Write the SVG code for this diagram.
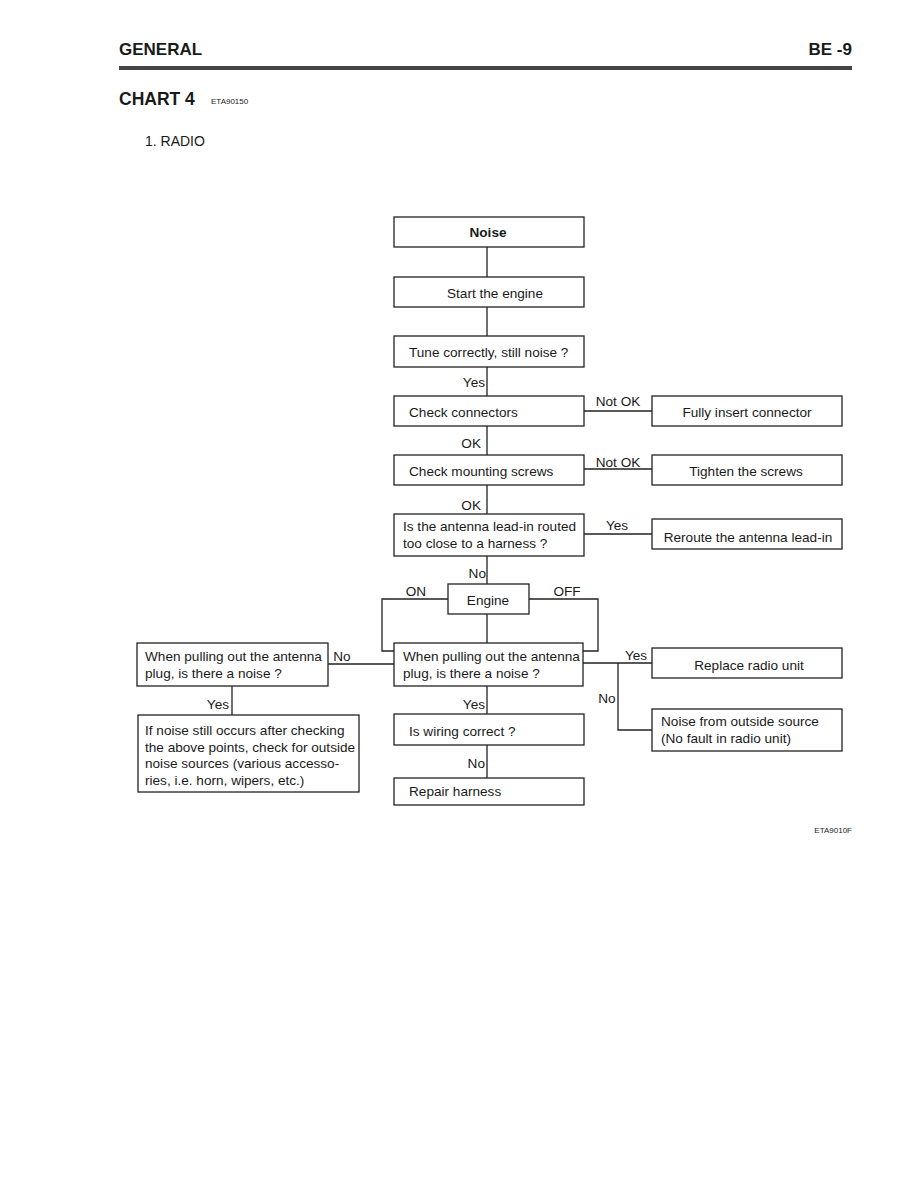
<svg xmlns="http://www.w3.org/2000/svg" width="918" height="1188" viewBox="0 0 918 1188">
<style>
text{font-family:"Liberation Sans",Arial,sans-serif;fill:#1a1a1a;font-size:13.6px}
.b{font-weight:bold}
.box{fill:#fff;stroke:#222;stroke-width:1.3}
.ln{fill:none;stroke:#222;stroke-width:1.3}
.c{text-anchor:middle}
.r{text-anchor:end}
</style>
<rect width="918" height="1188" fill="#fff"/>
<g id="header">
<text x="119" y="55" class="b" style="font-size:17px">GENERAL</text>
<text x="852" y="55" class="b r" style="font-size:17px">BE -9</text>
<rect x="119" y="66" width="733" height="4" fill="#444"/>
<text x="119" y="105" class="b" style="font-size:17.5px">CHART 4</text>
<text x="211" y="104" style="font-size:8px">ETA90150</text>
<text x="145" y="146" style="font-size:14px">1. RADIO</text>
<text x="852" y="833" class="r" style="font-size:8px">ETA9010F</text>
</g>
<g id="connectors">
<path class="ln" d="M487 247V277M487 307V336M487 367V396M487 426V455M487 485V514M487 556V584M487 614V643M487 686V714M487 745V778"/>
<path class="ln" d="M584 411H652M584 469H652M584 534H652"/>
<path class="ln" d="M448 599H382V651H394M529 599H598V651H583"/>
<path class="ln" d="M328 664H394"/>
<path class="ln" d="M583 663H652M618 663V730H652"/>
<path class="ln" d="M232 686V715"/>
</g>
<g id="labels">
<text x="485" y="387" class="r">Yes</text>
<text x="618" y="406" class="c">Not OK</text>
<text x="481" y="448" class="r">OK</text>
<text x="618" y="467" class="c">Not OK</text>
<text x="481" y="510" class="r">OK</text>
<text x="617" y="530" class="c">Yes</text>
<text x="486" y="578" class="r">No</text>
<text x="416" y="596" class="c">ON</text>
<text x="567" y="596" class="c">OFF</text>
<text x="342" y="661" class="c">No</text>
<text x="636" y="660" class="c">Yes</text>
<text x="607" y="703" class="c">No</text>
<text x="485" y="709" class="r">Yes</text>
<text x="229" y="709" class="r">Yes</text>
<text x="485" y="768" class="r">No</text>
</g>
<g id="n-noise"><rect class="box" x="394" y="217" width="190" height="30"/><text x="488" y="237" class="b c">Noise</text></g>
<g id="n-start"><rect class="box" x="394" y="277" width="190" height="30"/><text x="447" y="298">Start the engine</text></g>
<g id="n-tune"><rect class="box" x="394" y="336" width="190" height="31"/><text x="409" y="357">Tune correctly, still noise ?</text></g>
<g id="n-connectors"><rect class="box" x="394" y="396" width="190" height="30"/><text x="409" y="417">Check connectors</text></g>
<g id="n-insert"><rect class="box" x="652" y="396" width="190" height="30"/><text x="747" y="417" class="c">Fully insert connector</text></g>
<g id="n-screws"><rect class="box" x="394" y="455" width="190" height="30"/><text x="409" y="476">Check mounting screws</text></g>
<g id="n-tighten"><rect class="box" x="652" y="455" width="190" height="30"/><text x="746" y="476" class="c">Tighten the screws</text></g>
<g id="n-leadin"><rect class="box" x="394" y="514" width="190" height="42"/><text x="403" y="531">Is the antenna lead-in routed</text><text x="403" y="548">too close to a harness ?</text></g>
<g id="n-reroute"><rect class="box" x="652" y="519" width="190" height="30"/><text x="748" y="542" class="c">Reroute the antenna lead-in</text></g>
<g id="n-engine"><rect class="box" x="448" y="584" width="81" height="30"/><text x="488" y="605" class="c">Engine</text></g>
<g id="n-plug-center"><rect class="box" x="394" y="643" width="189" height="43"/><text x="403" y="661">When pulling out the antenna</text><text x="403" y="678">plug, is there a noise ?</text></g>
<g id="n-plug-left"><rect class="box" x="137" y="643" width="191" height="43"/><text x="145" y="661">When pulling out the antenna</text><text x="145" y="678">plug, is there a noise ?</text></g>
<g id="n-replace"><rect class="box" x="652" y="648" width="190" height="30"/><text x="749" y="670" class="c">Replace radio unit</text></g>
<g id="n-outside"><rect class="box" x="652" y="709" width="190" height="42"/><text x="661" y="726">Noise from outside source</text><text x="661" y="743">(No fault in radio unit)</text></g>
<g id="n-wiring"><rect class="box" x="394" y="714" width="190" height="31"/><text x="409" y="736">Is wiring correct ?</text></g>
<g id="n-repair"><rect class="box" x="394" y="778" width="190" height="27"/><text x="409" y="796">Repair harness</text></g>
<g id="n-outside-check"><rect class="box" x="138" y="715" width="221" height="77"/><text x="145" y="735">If noise still occurs after checking</text><text x="145" y="752">the above points, check for outside</text><text x="145" y="768">noise sources (various accesso-</text><text x="145" y="785">ries, i.e. horn, wipers, etc.)</text></g>
</svg>
